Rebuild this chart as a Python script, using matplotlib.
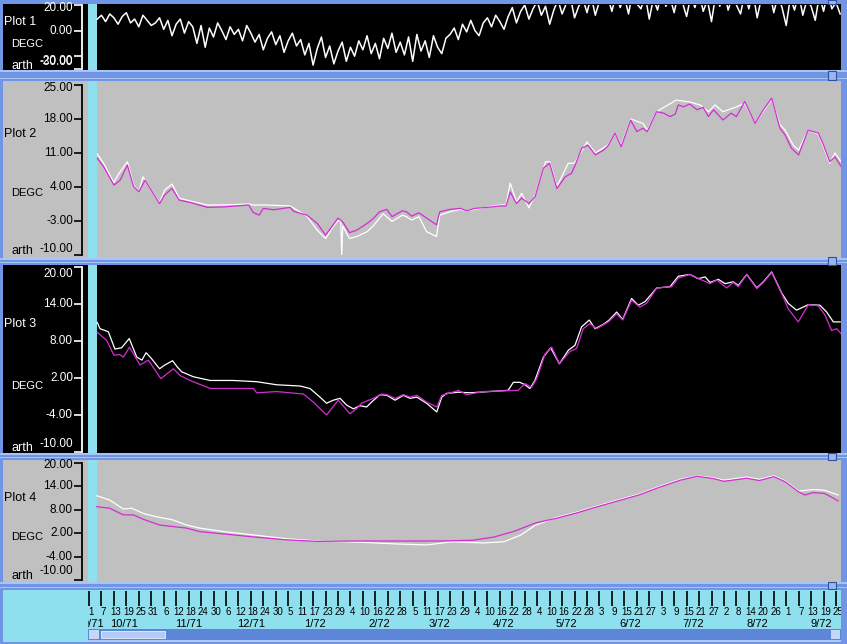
import datetime as dt
import numpy as np
import matplotlib
matplotlib.use("Agg")
from matplotlib import pyplot as plt
from matplotlib.patches import Rectangle

plt.rcParams['font.family'] = ['Liberation Sans', 'DejaVu Sans']

# ---- data (days since 1 Oct 1971, values in DEGC) ----
# plot 1: raw series, one value every 2 days
p1_values = [9, 12, 7, 13, 10, 5, 11, 14, 6, 9, 3, 12, 8, 4,
             6, 10, 1, 8, -4, 5, 9, -2, 7, 3, -10, 4, -13, 2, -5, 6, 0, -7, 3, -3, 1, -8, 4, -2,
             -9, -3, -15, -6, -1, -11, -4, -17, -8, -2, -12,
             -7, -19, -10, -27, -14, -5, -21, -12, -26, -16, -9, -24, -13, -20, -8,
             -15, -4, -18, -10, -22, -6, -14, -2, -17, -9, -19, -5, -24, -3, -16, -8, -21, -4, -13, -18, -6,
             -3, 2, -7, 5, -1, 8, 0, -4, 6, 10, 3, 12, 7, 1,
             11, 18, 6, 15, 20, 9, 17, 23, 12, 19, 5, 16, 24, 13, 21, 26, 10, 19, 25, 14, 27, 12, 23, 28,
             26, 15, 29, 18, 27, 13, 30, 21, 17, 28, 9, 25, 16, 31, 19, 26, 14, 29, 22, 11,
             27, 18, 30, 15, 24, 7, 28, 19, 32, 16, 26, 20, 13, 29, 17, 30, 10, 25, 21, 31,
             14, 27, 18, 4, 26, 16, 29, 12, 24, 19, 8, 28, 15, 30, 17, 22, 13]
p1_days = np.arange(4, 4 + 2 * len(p1_values), 2)

# plot 2
p2_white_days = [4, 7, 12, 14, 18.5, 21.5, 24, 26, 30, 34, 36.5, 40, 43.5, 49, 57, 65, 77, 79, 84, 97,
                 105, 110, 114, 117, 120, 121.3, 121.8, 122.3, 125.5, 129, 134, 137, 141.8, 146, 151,
                 153, 155.5, 159, 162.7, 167.5, 169, 174, 179, 182, 198, 201, 203, 206, 208.5, 212,
                 215, 220, 222, 225.5, 231, 234, 240, 244, 250, 253.5, 256.5, 261, 267, 269, 273.5,
                 283, 289.5, 294.5, 298.5, 301.7, 305.5, 312, 316, 321, 329, 333, 335.5, 339.4, 342,
                 346.5, 351.5, 357, 359.5, 362.5]
p2_white = [10.8, 8.9, 4.9, 6.5, 9.2, 4.4, 3.0, 6.1, 3.4, 0.8, 3.4, 4.6, 1.7, 1.1, 0.3, 0.3, 0.5, 0.3, 0.3, 0.1,
            -2.0, -4.9, -6.6, -4.6, -2.9, -3.0, -10.0, -4.0, -6.6, -6.2, -5.2, -4.0, -1.5, -3.1, -1.8,
            -2.1, -2.8, -2.1, -5.2, -6.2, -1.8, -1.1, -0.6, -0.9, 0.3, 0.3, 4.8, 0.9, 2.7, -0.3,
            2.3, 9.2, 9.2, 4.1, 8.9, 8.9, 13.3, 11.0, 12.6, 15.1, 12.6, 18.0, 17.1, 15.7, 19.5,
            21.9, 21.5, 20.9, 19.5, 20.9, 19.5, 20.5, 21.2, 17.2, 22.1, 16.8, 15.7, 12.6, 11.6,
            15.7, 14.9, 8.9, 11.0, 9.2]
p2_mag_days = [4, 7, 12, 15, 18.5, 21.5, 24, 27, 34, 36.5, 40, 43.5, 49, 57, 65, 77, 79, 82, 84, 89,
               93.5, 97, 98.5, 105, 110, 114, 117, 120, 122.5, 125.5, 129, 134, 137, 140, 143.5, 146,
               151, 153, 155.5, 159, 167.5, 169, 174, 179, 182, 186, 192, 198, 201, 203, 206, 208.5,
               212, 215, 219, 222, 225.5, 229.5, 232.5, 234, 237.5, 240.5, 244, 248, 250, 253.5,
               256.5, 261, 264, 267, 269, 273.5, 277, 280, 282.5, 284, 286.5, 289.5, 293, 296, 298.5,
               301, 302.5, 305.5, 309.5, 312, 316, 321, 325, 329, 333, 335.5, 338.5, 342, 346.5,
               351.5, 354, 357, 359.5, 362.5]
p2_mag = [9.9, 8.2, 4.4, 5.4, 8.5, 4.1, 3.0, 5.4, 0.6, 2.4, 3.7, 1.3, 0.8, -0.2, -0.1, 0.3, -1.2, -1.8, -0.4, -0.7,
          -0.4, -0.2, -1.0, -1.8, -3.5, -5.9, -4.2, -2.4, -3.3, -5.4, -4.9, -3.5, -2.5, -1.1, -0.6, -2.1,
          -0.9, -1.1, -2.0, -1.3, -3.8, -1.1, -0.6, -0.4, -0.9, -0.4, -0.2, 0.1, 0.1, 3.0, 0.6, 1.7,
          0.6, 2.0, 7.9, 8.9, 3.7, 6.1, 6.8, 8.2, 12.0, 12.6, 10.6, 11.6, 12.4, 15.1,
          12.3, 17.8, 15.4, 16.1, 15.4, 19.5, 19.2, 18.5, 19.0, 20.9, 20.5, 21.1, 19.9, 20.4, 18.5,
          19.9, 19.2, 17.8, 19.2, 18.5, 21.6, 17.1, 19.9, 22.3, 16.1, 14.7, 12.0, 10.6, 15.7,
          15.1, 12.6, 9.2, 10.2, 8.2]

# plot 3
p3_white_days = [4, 5.3, 9.3, 12.5, 15.7, 19.4, 23, 25.5, 27.5, 30, 34, 36.5, 40.3, 42.5, 44.7, 50.3,
                 58.4, 69.5, 80.8, 90.5, 101.7, 106.5, 111.3, 114.5, 117.7, 121, 124.2, 127.4, 130.6,
                 133.8, 136.2, 140.2, 143.5, 147.5, 151.5, 154.7, 158, 162.7, 167.6, 170, 172.3, 178,
                 183.6, 188.4, 202, 204.5, 207.7, 210.1, 212.5, 214.9, 219, 222.5, 226.7, 231, 234.2,
                 237.4, 241.1, 243.9, 247.9, 250.7, 254.3, 257.2, 261.5, 264.7, 268, 273.6, 280, 284,
                 289.6, 293.6, 296.9, 299.3, 303.3, 306.5, 310.5, 312.9, 317, 321.8, 325, 329, 333.8,
                 337, 341, 346.7, 352.3, 355.5, 358.7, 362]
p3_white = [11.0, 10.0, 9.5, 6.7, 6.9, 8.4, 5.4, 4.9, 6.1, 5.2, 3.5, 4.1, 4.8, 3.8, 3.0, 2.2,
            1.6, 1.6, 1.4, 0.9, 0.7, 0.3, -1.1, -2.1, -1.6, -1.3, -2.4, -3.0, -2.5,
            -2.7, -1.9, -0.7, -0.8, -1.6, -0.8, -1.3, -1.1, -2.1, -3.5, -1.1, -0.5, -0.3,
            -0.4, -0.3, 0.0, 1.3, 1.3, 0.9, 0.3, 1.6, 5.4, 6.9, 4.3, 6.5, 7.3,
            10.3, 11.4, 10.0, 10.7, 11.4, 12.7, 11.5, 14.9, 13.8, 14.4, 16.6, 16.8, 18.5,
            18.8, 18.1, 18.4, 17.5, 18.0, 17.3, 17.6, 17.0, 18.8, 16.6, 17.6, 19.2, 15.8,
            14.1, 13.0, 13.9, 13.8, 12.7, 11.1, 11.1]
p3_mag_days = [4, 8.5, 12, 14.7, 16.6, 19.5, 24.6, 28.6, 34.6, 40.7, 43.9, 48.7, 58.4, 79.2, 80.8,
               90.5, 103.3, 108.1, 114.5, 120.1, 125.7, 128.9, 131.3, 137, 141, 143.5, 147.5, 151.5,
               154.7, 158, 162.7, 167.6, 170, 172.3, 178, 182, 190, 206.9, 210.1, 213.3, 215.8,
               219.8, 223, 226.7, 231.8, 235, 238.2, 241.4, 244.7, 250.3, 254.3, 257.2, 261.5,
               265.5, 268.7, 273.6, 280.8, 284, 289.6, 294.5, 299.3, 302.5, 307.3, 310.5, 312.9,
               317, 321.8, 325, 329, 333.8, 337, 341.8, 346.7, 351.5, 354.7, 357.9, 360.3, 362.4]
p3_mag = [9.4, 8.1, 5.7, 5.8, 5.4, 7.0, 4.1, 4.9, 1.9, 3.5, 2.4, 1.6, 0.3, 0.3, -0.4,
          -0.2, -0.6, -1.9, -4.0, -1.6, -3.8, -3.0, -2.1, -1.3, -0.6, -0.7, -1.3, -0.7,
          -1.1, -0.8, -1.9, -2.7, -0.8, -0.6, 0.0, -0.7, -0.2, 0.0, 1.1, 0.5, 1.9,
          5.9, 7.0, 4.3, 6.3, 6.8, 10.0, 10.8, 10.0, 11.1, 12.4, 11.4, 14.6,
          13.5, 14.1, 16.6, 16.8, 18.2, 18.8, 18.0, 17.3, 17.9, 16.6, 17.5, 16.8,
          18.8, 16.5, 17.5, 19.1, 15.7, 13.2, 11.1, 13.9, 13.7, 12.2, 9.7, 10.0, 9.2]

# plot 4
p4_white_days = [3.7, 6, 10, 16.5, 20.6, 26, 32.6, 40.5, 47, 53.5, 65, 80, 95, 110, 130, 150, 163, 175,
                 190, 200, 208, 215, 225, 235, 245, 255, 265, 275, 285, 293, 301, 306, 317, 323, 330,
                 335.5, 342, 349, 354.5, 361]
p4_white = [11.6, 11.2, 10.5, 8.2, 8.4, 7.1, 6.2, 5.4, 4.1, 3.3, 2.4, 1.5, 0.6, 0.0, -0.3, -0.8, -1.0, -0.2,
            -0.5, -0.2, 1.5, 4.0, 6.0, 7.4, 9.0, 10.5, 12.0, 14.0, 15.8, 16.7, 16.2, 15.6, 16.4, 15.8, 16.7,
            15.4, 12.8, 13.2, 13.0, 11.8]
p4_mag_days = [3.7, 10, 16.5, 21.4, 26, 34, 40.5, 47, 53.5, 65, 80, 95, 110, 130, 150, 170, 185, 195,
               205, 215, 225, 235, 245, 255, 265, 275, 285, 293, 301, 306, 317, 323, 330, 335.5, 342,
               345, 349, 354.5, 361]
p4_mag = [8.8, 8.4, 6.7, 6.7, 5.6, 4.1, 3.7, 3.3, 2.4, 1.8, 1.0, 0.3, -0.1, 0.0, 0.0, 0.0, 0.2, 1.0,
          2.5, 4.6, 5.8, 7.2, 8.8, 10.3, 11.8, 13.8, 15.6, 16.6, 16.0, 15.3, 16.1, 15.5, 16.5, 15.2, 12.6,
          11.8, 12.4, 12.2, 10.3]

# ---- layout helpers (pixel units) ----
W, H = 847, 644
X0 = 89.0          # pixel of day 0
PX_DAY = 2.075     # pixels per day
BLUE = '#6f95e4'
LIGHT = '#a8c3f6'
CYAN = '#8fe0ee'
GREY = '#c0c0c0'
MAG = '#d42cd4'


def fbox(x0, y0, x1, y1):
    return [x0 / W, 1 - y1 / H, (x1 - x0) / W, (y1 - y0) / H]


def day_of(px):
    return (px - X0) / PX_DAY


fig = plt.figure(figsize=(8.47, 6.44), dpi=100, facecolor=BLUE)

# background "window chrome"
ch = fig.add_axes([0, 0, 1, 1])
ch.set_xlim(0, W)
ch.set_ylim(H, 0)
ch.axis('off')


def rect(x, y, w, h, fc, ec='none', lw=0.0):
    ch.add_patch(Rectangle((x, y), w, h, facecolor=fc, edgecolor=ec, linewidth=lw))


panels = [
    dict(top=4, bottom=70, atop=5, abot=69, lim=(-30, 20), ticks=[20, 0, -20, -30],
         bg='black', fg='white', name='Plot 1', ly=(22, 44, 66), lw=1.1,
         shift={20: 3, -20: 5, -30: -7}, series=[(p1_days, p1_values, 'white')]),
    dict(top=81, bottom=258, atop=85, abot=255, lim=(-10, 25), ticks=[25, 18, 11, 4, -3, -10],
         bg=GREY, fg='black', name='Plot 2', ly=(134, 193, 251), lw=0.9,
         shift={25: 3, -10: -6},
         series=[(p2_white_days, p2_white, 'white'), (p2_mag_days, p2_mag, MAG)]),
    dict(top=265, bottom=453, atop=267, abot=452, lim=(-10, 20), ticks=[20, 14, 8, 2, -4, -10],
         bg='black', fg='white', name='Plot 3', ly=(324, 386, 448), lw=0.9,
         shift={20: 7, -10: -8},
         series=[(p3_white_days, p3_white, 'white'), (p3_mag_days, p3_mag, MAG)]),
    dict(top=460, bottom=582, atop=463, abot=580, lim=(-10, 20), ticks=[20, 14, 8, 2, -4, -10],
         bg=GREY, fg='black', name='Plot 4', ly=(498, 537, 576), lw=0.9,
         shift={20: 2, -10: -9},
         series=[(p4_white_days, p4_white, 'white'), (p4_mag_days, p4_mag, MAG)]),
]

for p in panels:
    rect(3, p['top'], 838, p['bottom'] - p['top'], p['bg'])
    rect(88, p['top'], 9, p['bottom'] - p['top'], CYAN)
    ch.text(4, p['ly'][0], p['name'], color=p['fg'], fontsize=9, va='center')
    ch.text(11, p['ly'][1], 'DEGC', color=p['fg'], fontsize=8, va='center')
    ch.text(11, p['ly'][2], 'arth', color=p['fg'], fontsize=9, va='center')

# separators between panels
for y0, y1 in [(70, 81), (258, 265), (453, 460), (582, 590)]:
    rect(0, y0, W, 1.5, LIGHT)
    rect(0, y1 - 3, W, 1.2, LIGHT)
for hx, hy, hh in [(828, 0, 4), (828, 71, 9), (828, 257, 8), (828, 453, 7), (828, 582, 7)]:
    rect(hx, hy, 8, hh, '#9ab6ee', ec='#2f4f9f', lw=0.8)

# bottom time axis area + scrollbar
rect(3, 590, 838, 52, CYAN)
rect(88, 629, 753, 11, '#5d85d8')
rect(101, 631, 64, 7, '#b4cbf6', ec='#e8f0ff', lw=0.6)
rect(89, 630, 10, 9, '#c6d6f6')
rect(831, 630, 9, 9, '#c6d6f6')
rect(88, 640, 753, 2, '#b0c8f4')

# ---- data panels ----
for p in panels:
    ax = fig.add_axes(fbox(82, p['atop'], 841, p['abot']))
    ax.patch.set_visible(False)
    ax.set_xlim(day_of(82), day_of(841))
    ax.set_ylim(*p['lim'])
    for s in ['top', 'right', 'bottom']:
        ax.spines[s].set_visible(False)
    ax.spines['left'].set_color(p['fg'])
    ax.spines['left'].set_linewidth(1.3)
    ax.set_xticks([])
    ax.set_yticks(p['ticks'])
    ax.set_yticklabels([])
    ax.tick_params(axis='y', direction='out', length=6, width=1.2, color=p['fg'])
    for t in p['ticks']:
        dy = -p['shift'].get(t, 0) * 0.72
        ax.annotate('%.2f' % t, xy=(0, t), xycoords=('axes fraction', 'data'),
                    xytext=(-6.5, dy), textcoords='offset points',
                    ha='right', va='center', color=p['fg'], fontsize=8.5,
                    annotation_clip=False)
    for xd, yv, c in p['series']:
        ax.plot(xd, yv, color=c, lw=p['lw'])

# ---- date axis ----
bax = fig.add_axes(fbox(88, 590, 841, 628))
bax.set_xlim(day_of(88), day_of(841))
bax.set_ylim(628, 590)
bax.axis('off')

start = dt.date(1971, 10, 1)
tick_days = list(range(0, 361, 6))
bax.vlines(tick_days, 591, 606, colors='black', lw=1.2)
for d in tick_days:
    bax.text(d + 1.0, 612, str((start + dt.timedelta(days=d)).day), fontsize=7,
             ha='center', va='center', clip_on=True, clip_box=bax.bbox)

month_labels = ['9/71', '10/71', '11/71', '12/71', '1/72', '2/72', '3/72',
                '4/72', '5/72', '6/72', '7/72', '8/72', '9/72']
month_starts = [dt.date(1971, 9, 1)] + [dt.date(1971 + (9 + i) // 12, (9 + i) % 12 + 1, 1) for i in range(12)]
for lab, ms in zip(month_labels, month_starts):
    d = (ms - start).days + 17
    if lab == '9/71':
        d = 2
    bax.text(d, 624, lab, fontsize=8, ha='center', va='center',
             clip_on=True, clip_box=bax.bbox)

plt.savefig('out.png', dpi=100, facecolor=fig.get_facecolor())
